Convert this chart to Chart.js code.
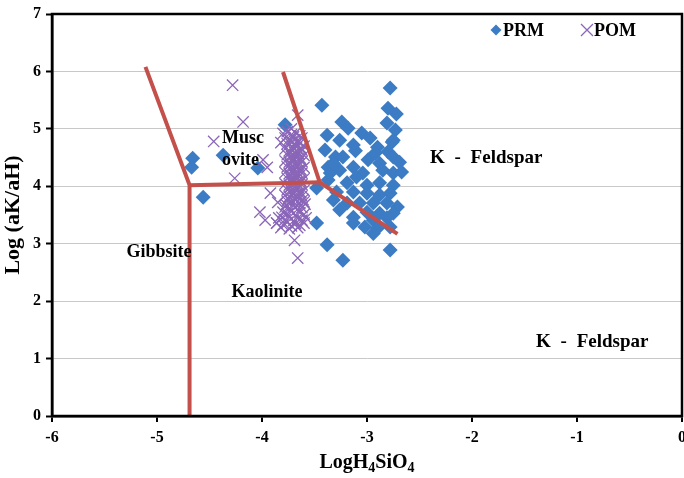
<!DOCTYPE html>
<html><head><meta charset="utf-8">
<script src="https://cdn.jsdelivr.net/npm/chart.js@4/dist/chart.umd.min.js"></script>
<style>html,body{margin:0;padding:0;background:#fff;}#wrap{width:684px;height:478px;}</style>
</head><body><div id="wrap"><canvas id="c" width="684" height="478"></canvas></div>
<script>
// ---- data ----
const xTicks = [-6, -5, -4, -3, -2, -1, 0];
const yTicks = [0, 1, 2, 3, 4, 5, 6, 7];
const seriesNames = ['PRM', 'POM'];

const prmX = [-2.78,-3.43,-2.80,-2.72,-3.24,-3.18,-2.81,-2.73,-3.38,-3.05,-2.97,-2.75,-3.26,-3.13,-2.90,-3.40,-3.30,-3.23,-2.80,-2.75,
  -2.99,-2.88,-2.69,-3.37,-3.26,-3.13,-3.04,-2.85,-2.75,-2.67,-3.37,-3.19,-3.00,-2.88,-2.75,-3.48,-3.29,-3.13,-3.00,-2.88,
  -2.78,-3.32,-3.19,-3.07,-2.94,-2.81,-2.71,-3.26,-3.00,-2.88,-2.75,-3.13,-2.94,-2.81,-3.48,-3.13,-3.02,-2.90,-2.78,-3.38,
  -3.23,-2.78,-4.56,-4.66,-4.67,-3.78,-4.37,-4.04,-3.35,-3.32,-2.76,-2.94,-3.11,-3.10,-2.92];
const prmY = [5.71,5.41,5.36,5.26,5.12,5.01,5.10,4.98,4.89,4.93,4.84,4.80,4.80,4.72,4.68,4.63,4.51,4.51,4.60,4.51,
  4.46,4.40,4.42,4.33,4.28,4.33,4.23,4.28,4.23,4.25,4.11,4.06,4.02,4.06,4.02,3.97,3.90,3.90,3.88,3.85,
  3.88,3.76,3.71,3.71,3.71,3.71,3.64,3.59,3.55,3.53,3.53,3.46,3.41,3.45,3.36,3.36,3.29,3.27,3.29,2.98,
  2.71,2.89,3.81,4.49,4.33,5.07,4.54,4.32,4.23,4.40,4.77,3.18,4.62,4.16,4.58];

const pomX = [-4.28,-4.18,-4.46,-3.66,-4.26,-3.99,-3.95,-4.02,-3.97,-3.92,-3.85,-3.81,-3.86,-3.69,-3.66,-3.72,
  -3.80,-3.76,-3.72,-3.68,-3.64,-3.78,-3.74,-3.70,-3.66,-3.62,
  -3.82,-3.76,-3.72,-3.68,-3.64,-3.60,
  -3.78,-3.74,-3.70,-3.66,-3.62,
  -3.76,-3.72,-3.68,-3.64,-3.60,
  -3.78,-3.74,-3.70,-3.66,-3.62,
  -3.76,-3.72,-3.68,-3.64,-3.60,
  -3.78,-3.74,-3.70,-3.66,-3.62,
  -3.76,-3.72,-3.68,-3.64,-3.60,
  -3.78,-3.74,-3.70,-3.66,-3.62,
  -3.76,-3.72,-3.68,-3.64,-3.60,
  -3.78,-3.74,-3.70,-3.66,-3.62,
  -3.76,-3.72,-3.68,-3.64,-3.60,
  -3.78,-3.74,-3.70,-3.66,-3.62,
  -3.80,-3.76,-3.72,-3.68,-3.64,-3.60,
  -3.84,-3.78,-3.74,-3.70,-3.66,-3.62,-3.58,
  -3.86,-3.80,-3.76,-3.72,-3.68,-3.64,-3.60,
  -3.82,-3.74,-3.66,
  -3.73,-3.69,-3.65,-3.71,-3.67,-3.63,-3.73,-3.69,-3.65,-3.71,-3.67,-3.63,
  -3.73,-3.69,-3.65,-3.71,-3.67,-3.63,-3.73,-3.69,-3.65,-3.71,-3.67,-3.63,
  -3.73,-3.69,-3.65,-3.71,-3.67,-3.63,-3.75,-3.69,-3.61,-3.77,-3.67,-3.59];
const pomY = [5.76,5.12,4.78,5.24,4.14,4.46,4.33,3.55,3.41,3.88,3.72,3.46,3.36,3.06,2.75,5.00,
  4.92,4.95,4.90,4.93,4.88,4.84,4.82,4.86,4.80,4.84,
  4.76,4.74,4.77,4.72,4.75,4.70,
  4.65,4.62,4.66,4.60,4.63,
  4.55,4.52,4.56,4.50,4.54,
  4.44,4.42,4.46,4.40,4.43,
  4.34,4.32,4.36,4.30,4.33,
  4.24,4.22,4.26,4.20,4.23,
  4.14,4.12,4.16,4.10,4.13,
  4.04,4.02,4.06,4.00,4.03,
  3.94,3.92,3.96,3.90,3.93,
  3.84,3.82,3.86,3.80,3.83,
  3.74,3.72,3.76,3.70,3.73,
  3.64,3.62,3.66,3.60,3.63,
  3.55,3.52,3.56,3.50,3.54,3.51,
  3.45,3.42,3.46,3.40,3.44,3.41,3.45,
  3.36,3.33,3.37,3.31,3.35,3.32,3.36,
  3.28,3.26,3.28,
  4.79,4.81,4.78,4.69,4.68,4.67,4.58,4.59,4.57,4.48,4.49,4.47,
  4.38,4.39,4.37,4.28,4.27,4.29,4.18,4.19,4.17,4.08,4.07,4.09,
  3.98,3.99,3.97,3.88,3.87,3.89,3.78,3.79,3.77,3.68,3.67,3.69];

// stability field boundaries
const bndAX = [-5.11, -4.69, -4.69];
const bndAY = [6.08, 4.02, 0];
const bndBX = [-4.69, -3.45, -2.71];
const bndBY = [4.02, 4.07, 3.17];
const bndCX = [-3.45, -3.80];
const bndCY = [4.07, 5.99];

const fieldText = ['Musc', 'ovite', 'K - Feldspar', 'Gibbsite', 'Kaolinite', 'K - Feldspar'];
const fieldX = [-4.38, -4.38, -2.40, -5.29, -4.29, -1.39];
const fieldY = [4.84, 4.46, 4.49, 2.85, 2.16, 1.29];

// ---- build ----
const zip = (xs, ys) => xs.map((v, i) => ({x: v, y: ys[i]}));
const RED = '#c4504c', BLUE = '#3c7cc4', PURPLE = '#8a66b8';
const SERIF = '"Liberation Serif", "Times New Roman", serif';

const decor = {
  id: 'decor',
  afterDatasetsDraw(chart) {
    const {ctx, chartArea: a, scales: {x, y}} = chart;
    ctx.save();
    ctx.strokeStyle = '#000'; ctx.lineWidth = 2.5;
    ctx.strokeRect(a.left, a.top, a.right - a.left, a.bottom - a.top);
    ctx.fillStyle = '#000'; ctx.textBaseline = 'middle'; ctx.textAlign = 'left';
    fieldText.forEach((t, i) => {
      const kf = t.indexOf(' - ') >= 0;
      ctx.font = 'bold ' + (kf ? 19 : 18) + 'px ' + SERIF;
      ctx.wordSpacing = kf ? '5px' : '0px';
      ctx.fillText(t, x.getPixelForValue(fieldX[i]), y.getPixelForValue(fieldY[i]));
    });
    ctx.wordSpacing = '0px';
    // legend
    const ly = a.top + 16;
    const dx = a.right - 186;
    ctx.fillStyle = BLUE;
    ctx.beginPath(); ctx.moveTo(dx, ly - 5.5); ctx.lineTo(dx + 5.5, ly); ctx.lineTo(dx, ly + 5.5); ctx.lineTo(dx - 5.5, ly); ctx.closePath(); ctx.fill();
    ctx.fillStyle = '#000'; ctx.font = 'bold 18px ' + SERIF;
    ctx.fillText(seriesNames[0], dx + 7, ly + 1);
    const cx = a.right - 95;
    ctx.strokeStyle = PURPLE; ctx.lineWidth = 1.3;
    ctx.beginPath(); ctx.moveTo(cx - 6, ly - 6); ctx.lineTo(cx + 6, ly + 6); ctx.moveTo(cx + 6, ly - 6); ctx.lineTo(cx - 6, ly + 6); ctx.stroke();
    ctx.fillText(seriesNames[1], cx + 7, ly + 1);
    // x-axis title with subscripts
    const parts = [['LogH', false], ['4', true], ['SiO', false], ['4', true]];
    const big = 'bold 20px ' + SERIF, small = 'bold 14px ' + SERIF;
    let w = 0;
    parts.forEach(p => { ctx.font = p[1] ? small : big; w += ctx.measureText(p[0]).width; });
    let px = (a.left + a.right) / 2 - w / 2;
    const py = 468;
    ctx.textBaseline = 'alphabetic';
    parts.forEach(p => { ctx.font = p[1] ? small : big; ctx.fillText(p[0], px, p[1] ? py + 4 : py); px += ctx.measureText(p[0]).width; });
    ctx.restore();
  }
};

new Chart(document.getElementById('c'), {
  type: 'scatter',
  data: {
    datasets: [
      {label: 'b1', data: zip(bndAX, bndAY), showLine: true, borderColor: RED, borderWidth: 4, pointRadius: 0, order: 0, tension: 0},
      {label: 'b2', data: zip(bndBX, bndBY), showLine: true, borderColor: RED, borderWidth: 4, pointRadius: 0, order: 0, tension: 0},
      {label: 'b3', data: zip(bndCX, bndCY), showLine: true, borderColor: RED, borderWidth: 4, pointRadius: 0, order: 0, tension: 0},
      {label: seriesNames[1], data: zip(pomX, pomY), pointStyle: 'crossRot', pointRadius: 8, borderColor: PURPLE, borderWidth: 1.3, backgroundColor: PURPLE, order: 1},
      {label: seriesNames[0], data: zip(prmX, prmY), pointStyle: 'rectRot', pointRadius: 7.5, borderColor: BLUE, borderWidth: 0, backgroundColor: BLUE, order: 2}
    ]
  },
  options: {
    responsive: false, devicePixelRatio: 1, animation: false,
    layout: {autoPadding: false, padding: {top: 14, right: 2, left: 0, bottom: 0}},
    plugins: {legend: {display: false}, tooltip: {enabled: false}},
    scales: {
      x: {
        type: 'linear', min: -6, max: 0,
        afterBuildTicks: s => { s.ticks = xTicks.map(v => ({value: v})); },
        afterFit: s => { s.height = 62; s.paddingRight = 0; s.paddingLeft = 0; },
        ticks: {color: '#000', font: {family: SERIF, size: 16, weight: 'bold'}, padding: 6},
        grid: {drawOnChartArea: false, drawTicks: true, tickLength: 6, color: '#000', lineWidth: 2},
        border: {color: '#000', width: 2.5}
      },
      y: {
        type: 'linear', min: 0, max: 7,
        afterBuildTicks: s => { s.ticks = yTicks.map(v => ({value: v})); },
        afterFit: s => { s.width = 52; s.paddingTop = 0; s.paddingBottom = 0; },
        ticks: {color: '#000', font: {family: SERIF, size: 16, weight: 'bold'}, padding: 5},
        grid: {color: '#c8c8c8', lineWidth: 1, tickLength: 6, tickColor: '#000', tickWidth: 2},
        border: {color: '#000', width: 2.5},
        title: {display: true, text: 'Log (aK/aH)', color: '#000', font: {family: SERIF, size: 22, weight: 'bold'}, padding: {top: 0, bottom: 0}}
      }
    }
  },
  plugins: [decor]
});
</script></body></html>
